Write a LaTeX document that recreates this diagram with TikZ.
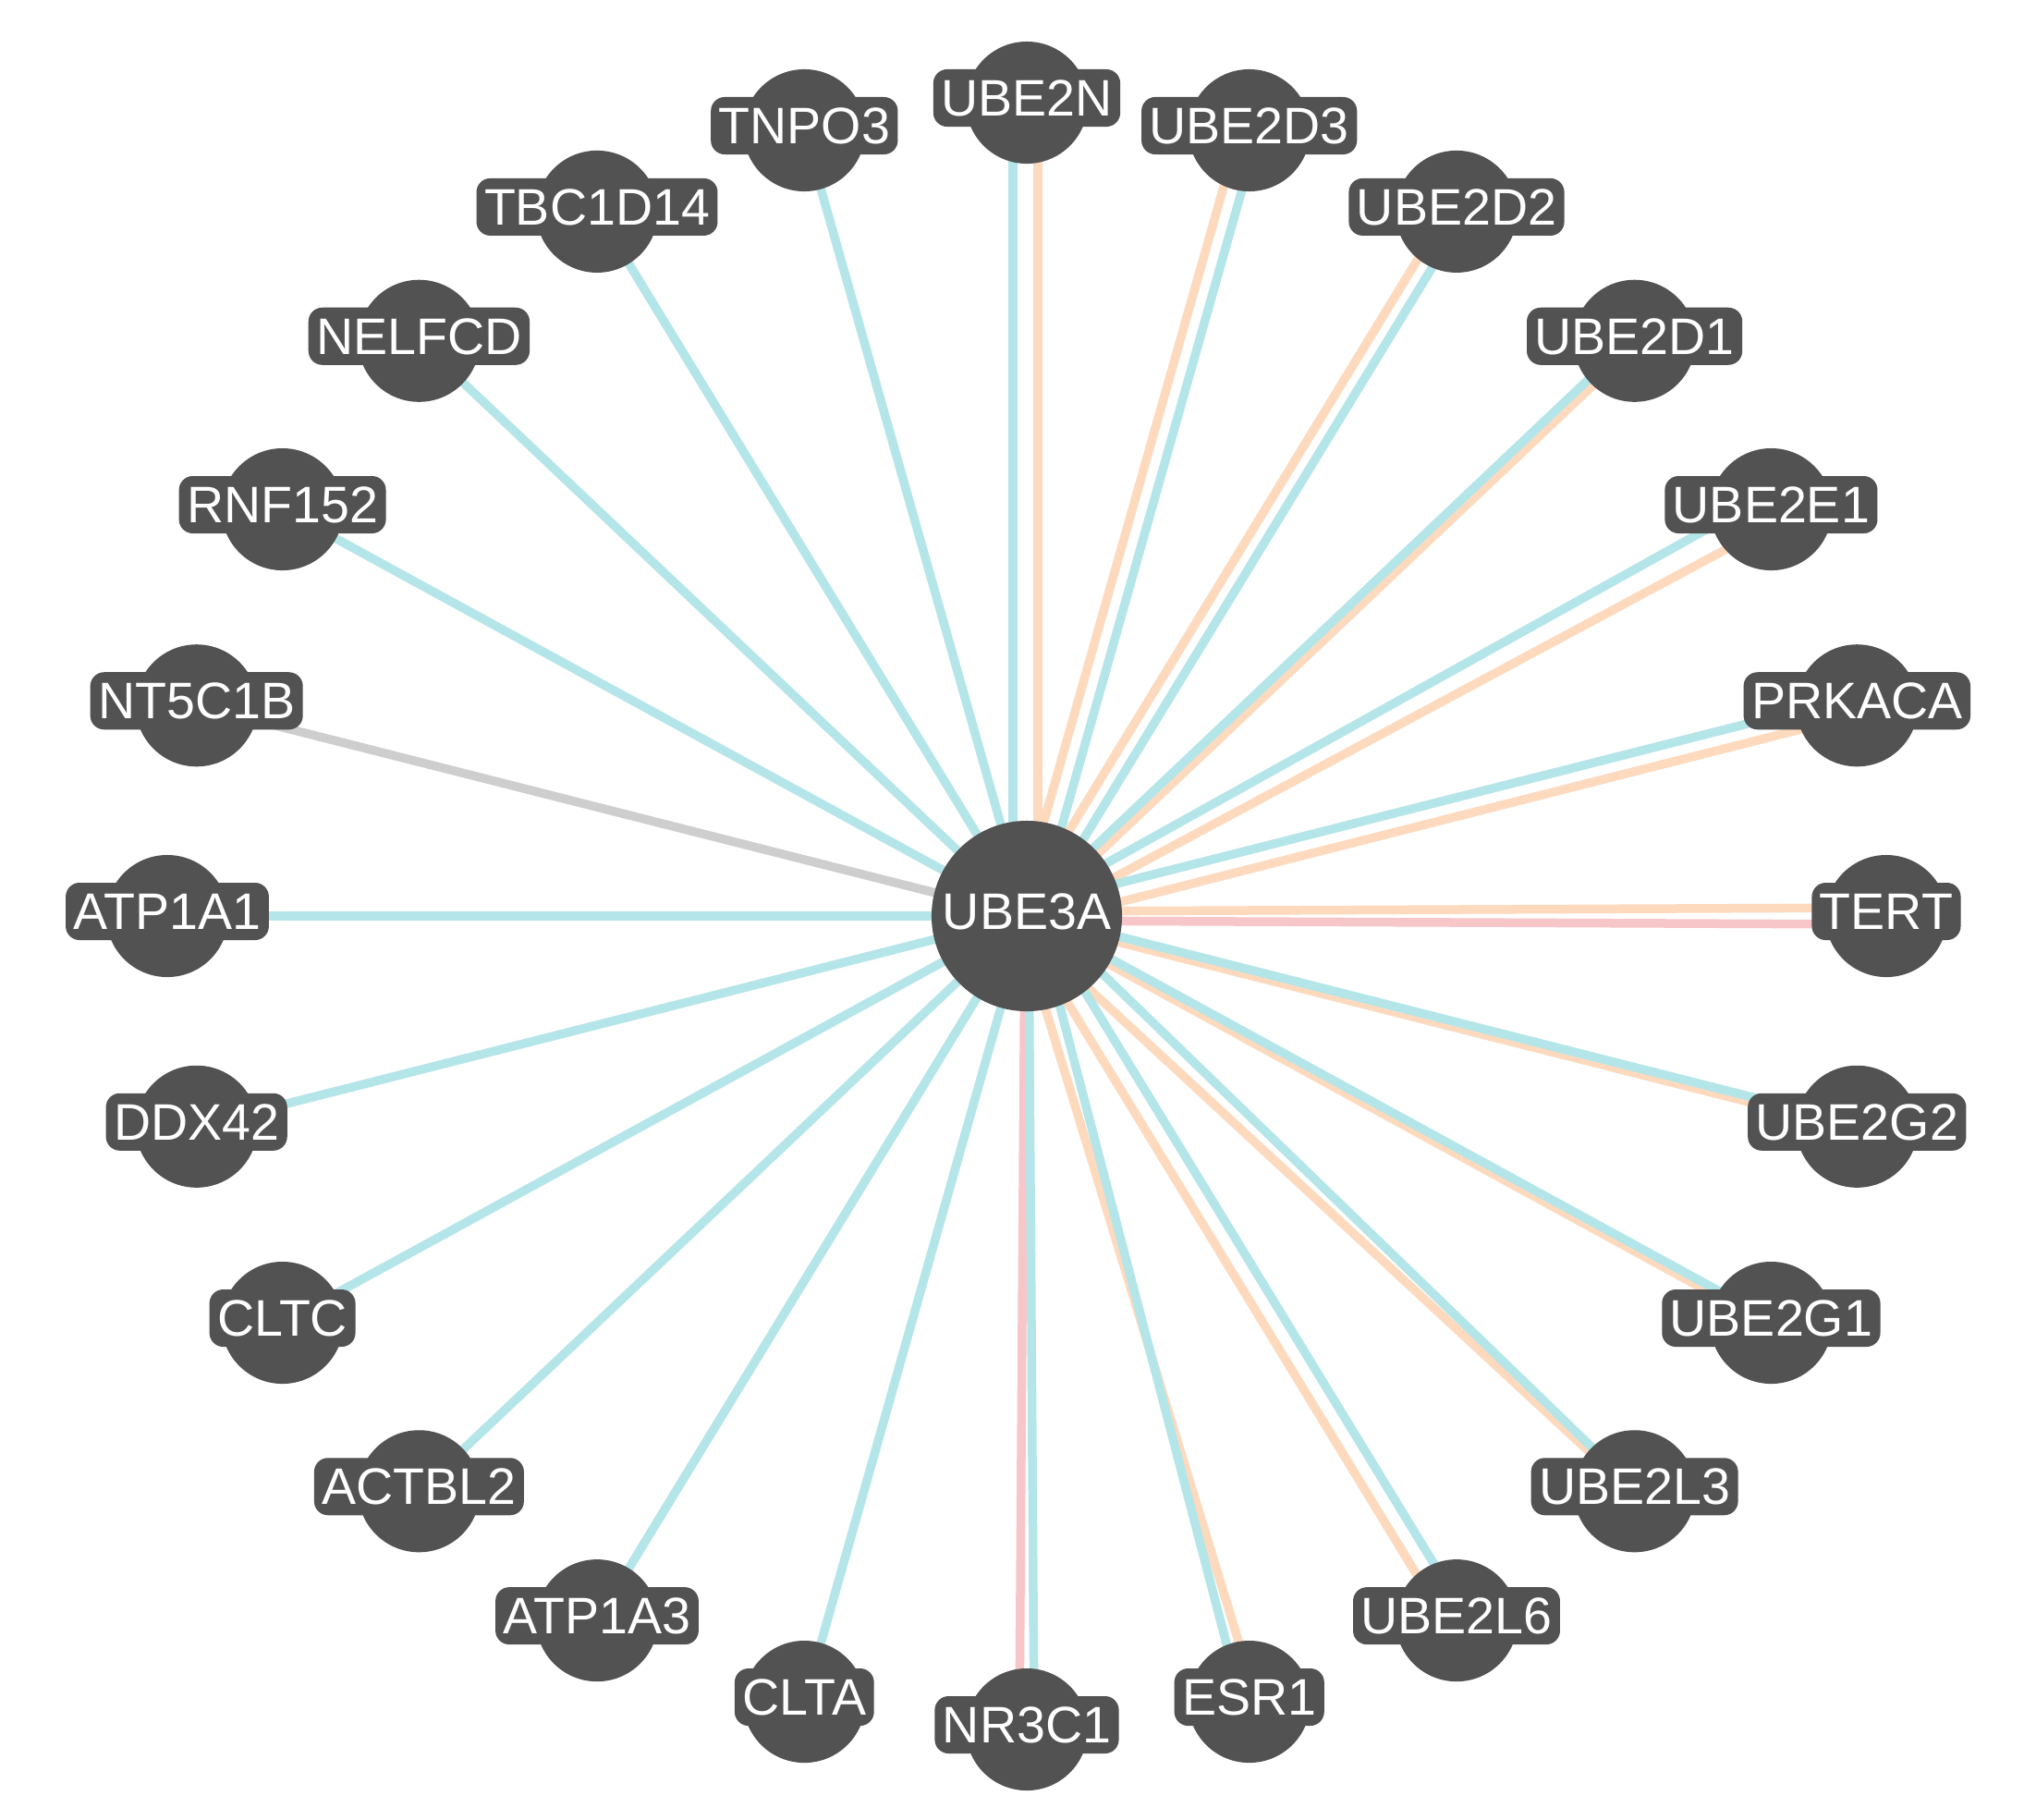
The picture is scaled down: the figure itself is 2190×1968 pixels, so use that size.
\documentclass[tikz,border=0pt]{standalone}
\usepackage{fontspec}
\setmainfont{Liberation Sans}
\usetikzlibrary{calc}
\definecolor{nodegray}{RGB}{82,82,82}
\definecolor{ecyan}{RGB}{180,229,233}
\definecolor{eorange}{RGB}{253,218,190}
\definecolor{epink}{RGB}{247,198,200}
\definecolor{egray}{RGB}{206,206,206}
\pgfdeclarelayer{bg}
\pgfdeclarelayer{edges}
\pgfsetlayers{bg,edges,main}
\newcommand\pedge[4]{\draw[edge,#2] ($(UBE3A)!#3!90:(#1)$) -- ($(#1)!#4!-90:(UBE3A)$);}
\begin{document}
\begin{tikzpicture}[x=0.01cm,y=-0.01cm,
  gene/.style={circle,fill=nodegray,minimum size=1.32cm,inner sep=0pt},
  hub/.style={circle,fill=nodegray,minimum size=2.06cm,inner sep=0pt},
  genelabel/.style={fill=nodegray,rounded corners=0.15cm,text=white,
    font=\fontsize{15.8pt}{18pt}\selectfont,inner xsep=0.085cm,inner ysep=0.115cm,
    text height=0.39cm,text depth=0pt},
  edge/.style={line width=0.095cm}]
\begin{pgfonlayer}{bg}
\fill[white] (0,0) rectangle (2190,1968);
\end{pgfonlayer}
\useasboundingbox (0,0) rectangle (2190,1968);
% nodes
\node[hub] (UBE3A) at (1111,991) {};
\node[genelabel] (UBE3A-t) at (1111,986) {UBE3A};
\foreach \n/\a in {UBE2N/90, UBE2D3/75, UBE2D2/60, UBE2D1/45, UBE2E1/30, PRKACA/15,
  TERT/0, UBE2G2/-15, UBE2G1/-30, UBE2L3/-45, UBE2L6/-60, ESR1/-75, NR3C1/-90,
  CLTA/-105, ATP1A3/-120, ACTBL2/-135, CLTC/-150, DDX42/-165, ATP1A1/180,
  NT5C1B/165, RNF152/150, NELFCD/135, TBC1D14/120, TNPO3/105}{
  \node[gene] (\n) at ({1111+930*cos(\a)},{991-880*sin(\a)}) {};
  \node[genelabel] (\n-t) at ({1111+930*cos(\a)},{986-880*sin(\a)}) {\n};
}
% edges
\begin{pgfonlayer}{edges}
\pedge{UBE2N}{eorange}{-0.12cm}{-0.12cm}
\pedge{UBE2N}{ecyan}{0.15cm}{0.15cm}
\pedge{UBE2D3}{eorange}{0.10cm}{0.10cm}
\pedge{UBE2D3}{ecyan}{-0.10cm}{-0.10cm}
\pedge{UBE2D2}{eorange}{0.09cm}{0.09cm}
\pedge{UBE2D2}{ecyan}{-0.09cm}{-0.09cm}
\pedge{UBE2D1}{eorange}{-0.04cm}{-0.04cm}
\pedge{UBE2D1}{ecyan}{0.04cm}{0.04cm}
\pedge{UBE2E1}{eorange}{-0.08cm}{-0.15cm}
\pedge{UBE2E1}{ecyan}{0.08cm}{0.15cm}
\pedge{PRKACA}{eorange}{-0.10cm}{-0.10cm}
\pedge{PRKACA}{ecyan}{0.10cm}{0.10cm}
\pedge{TERT}{eorange}{0.05cm}{0.09cm}
\pedge{TERT}{epink}{-0.05cm}{-0.09cm}
\pedge{UBE2G2}{eorange}{-0.03cm}{-0.03cm}
\pedge{UBE2G2}{ecyan}{0.03cm}{0.03cm}
\pedge{UBE2G1}{eorange}{-0.03cm}{-0.03cm}
\pedge{UBE2G1}{ecyan}{0.03cm}{0.03cm}
\pedge{UBE2L3}{eorange}{-0.12cm}{-0.02cm}
\pedge{UBE2L3}{ecyan}{0.12cm}{0.02cm}
\pedge{UBE2L6}{eorange}{-0.11cm}{-0.11cm}
\pedge{UBE2L6}{ecyan}{0.11cm}{0.11cm}
\pedge{ESR1}{eorange}{-0.10cm}{0.08cm}
\pedge{ESR1}{ecyan}{0.10cm}{-0.08cm}
\pedge{NR3C1}{epink}{-0.02cm}{-0.08cm}
\pedge{NR3C1}{ecyan}{0.02cm}{0.08cm}
\foreach \n in {CLTA, ATP1A3, ACTBL2, CLTC, DDX42, ATP1A1, RNF152, NELFCD, TBC1D14, TNPO3}{
  \pedge{\n}{ecyan}{0cm}{0cm}
}
\pedge{NT5C1B}{egray}{0cm}{0cm}
\end{pgfonlayer}
\end{tikzpicture}
\end{document}
